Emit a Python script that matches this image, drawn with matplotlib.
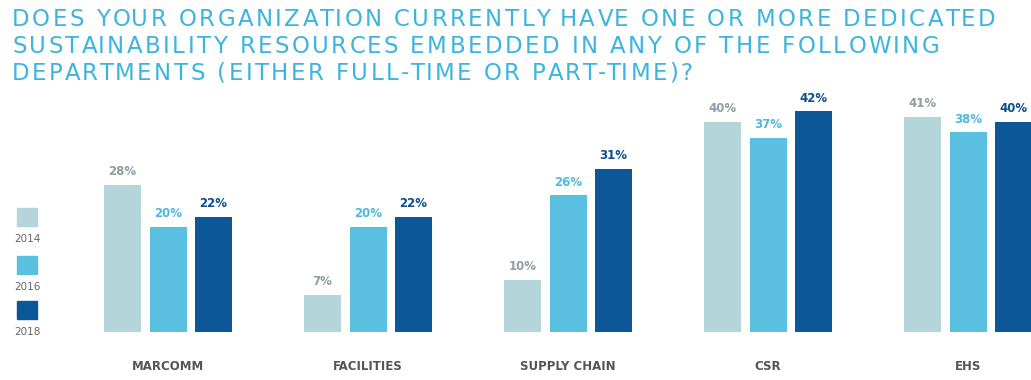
import matplotlib
matplotlib.use("Agg")
import numpy as np
import matplotlib.pyplot as plt
from matplotlib.patches import Rectangle

# data
categories = ['MARCOMM', 'FACILITIES', 'SUPPLY CHAIN', 'CSR', 'EHS']
years = ['2014', '2016', '2018']
vals_2014 = [28, 7, 10, 40, 41]
vals_2016 = [20, 20, 26, 37, 38]
vals_2018 = [22, 22, 31, 42, 40]

colors = ['#b4d6da', '#5bc0e0', '#0b5797']
label_colors = ['#8e9ea2', '#4fb8df', '#0b4f8f']

W, H = 1031, 380
fig = plt.figure(figsize=(W / 100, H / 100), dpi=100)

# axes: baseline at y=332px, one group = 200px, first group centre at x=168px
ax = fig.add_axes([0, 1 - 332 / H, 1, (332 - 90) / H])
ax.set_xlim(-168 / 200, (W - 168) / 200)
ax.set_ylim(0, 242 / 5.25)
ax.axis('off')

x = np.arange(len(categories))
width = 0.185
step = 0.2275
series = [vals_2014, vals_2016, vals_2018]
for i, vals in enumerate(series):
    pos = x + (i - 1) * step
    ax.bar(pos, vals, width=width, color=colors[i])
    for p, v in zip(pos, vals):
        ax.annotate(f'{v}%', (p, v), xytext=(0, 5), textcoords='offset points',
                    ha='center', va='bottom', fontsize=8.5, fontweight='bold',
                    color=label_colors[i], annotation_clip=False)

for xi, c in zip(x, categories):
    ax.annotate(c, (xi, 0), xytext=(0, -20), textcoords='offset points',
                ha='center', va='top', fontsize=8.5, fontweight='bold',
                color='#555555', annotation_clip=False)

# legend: squares stacked above the year text
leg_y = [208, 256, 301]
for i, yr in enumerate(years):
    top = leg_y[i]
    fig.add_artist(Rectangle((17 / W, 1 - (top + 18) / H), 20 / W, 18 / H,
                             transform=fig.transFigure, color=colors[i]))
    fig.text(27 / W, 1 - (top + 31) / H, yr, ha='center', va='center',
             fontsize=7.5, color='#666666')

# title, drawn letter by letter to get the wide tracking
title = ['DOES YOUR ORGANIZATION CURRENTLY HAVE ONE OR MORE DEDICATED',
         'SUSTAINABILITY RESOURCES EMBEDDED IN ANY OF THE FOLLOWING',
         'DEPARTMENTS (EITHER FULL-TIME OR PART-TIME)?']
renderer = fig.canvas.get_renderer()
tsize = 16.5


def text_w(s):
    t = fig.text(0, 0, s + '|', fontsize=tsize)
    w = t.get_window_extent(renderer).width
    t.remove()
    return w


bar_w = text_w('')
track = (983 - (text_w(title[0]) - bar_w)) / (len(title[0]) - 1)
for k, line in enumerate(title):
    ypos = 1 - (20 + 26.5 * k) / H
    for j, ch in enumerate(line):
        if ch == ' ':
            continue
        xpx = 12 + (text_w(line[:j]) - bar_w) + j * track
        fig.text(xpx / W, ypos, ch, ha='left', va='center', fontsize=tsize,
                 color='#3cb4df')

fig.savefig('out.png', dpi=100, facecolor='white')
